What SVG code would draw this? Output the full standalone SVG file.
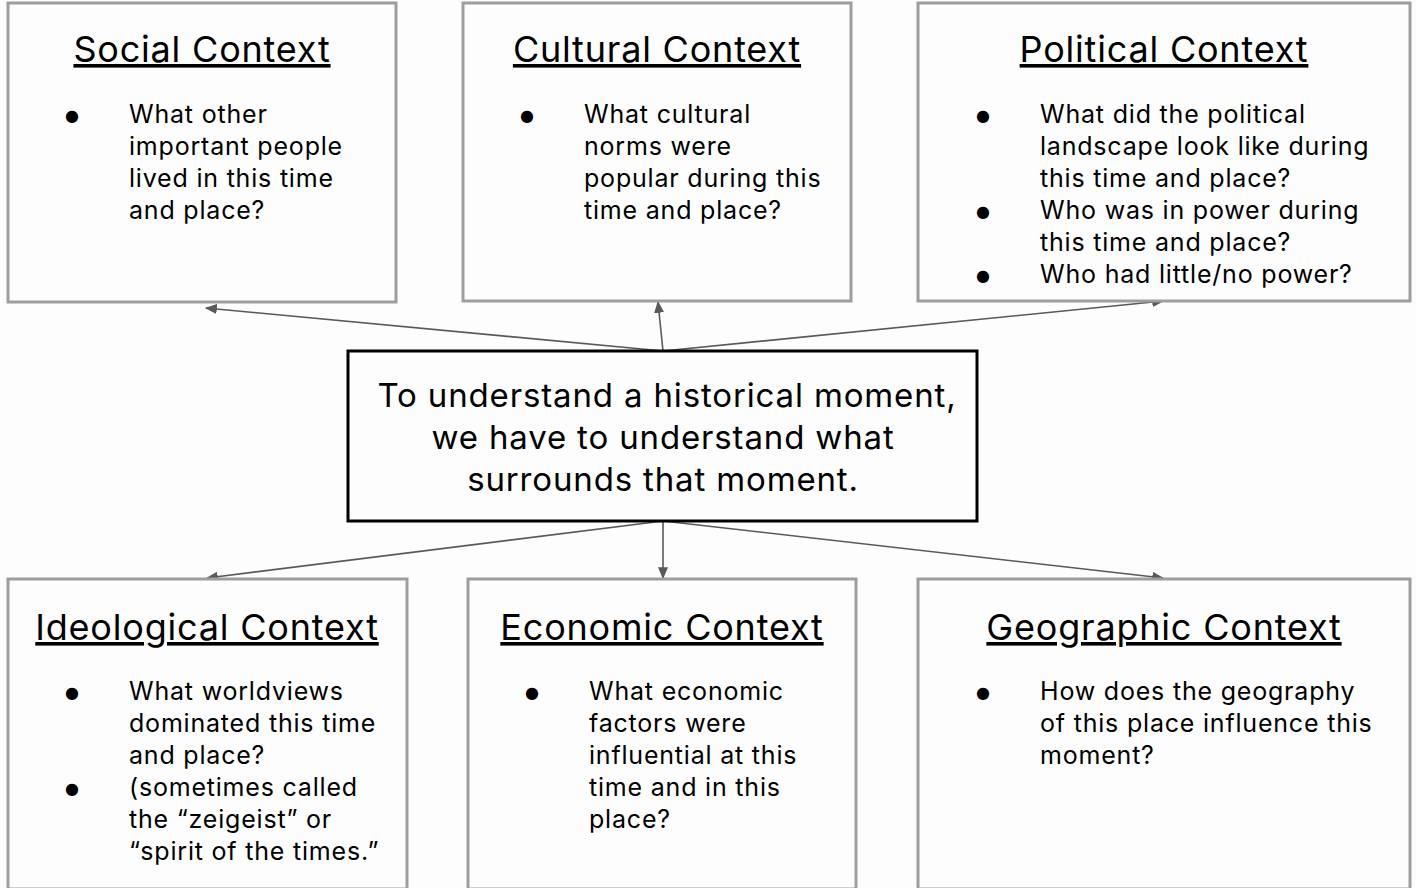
<svg xmlns="http://www.w3.org/2000/svg" width="1416" height="888" viewBox="0 0 1416 888">
<style>
.box{fill:#fdfdfd;stroke:#9e9e9e;stroke-width:3}
.center{fill:#fdfdfd;stroke:#000;stroke-width:3}
.title{font-family:Inter,"Liberation Sans",sans-serif;font-size:36px;letter-spacing:0.8px;fill:#000;text-anchor:middle;text-decoration:underline}
.body{font-family:Inter,"Liberation Sans",sans-serif;font-size:25px;letter-spacing:0.8px;fill:#000}
.pol{font-family:Inter,"Liberation Sans",sans-serif;font-size:25px;fill:#000;letter-spacing:0.8px}
.bul{font-family:"DejaVu Sans",sans-serif;font-size:16px;fill:#000;text-anchor:middle}
.main{font-family:Inter,"Liberation Sans",sans-serif;font-size:33px;letter-spacing:0.85px;fill:#000;text-anchor:middle}
.conn{stroke:#595959;stroke-width:1.6;fill:none;marker-end:url(#ah)}
</style>
<defs>
<marker id="ah" viewBox="0 0 10 10" refX="9" refY="5" markerWidth="12" markerHeight="10" markerUnits="userSpaceOnUse" orient="auto" preserveAspectRatio="none">
<path d="M0,0 L10,5 L0,10 z" fill="#595959"/>
</marker>
</defs>
<rect x="0" y="0" width="1416" height="888" fill="#fdfdfd"/>
<g id="connectors">
<line class="conn" x1="663" y1="351" x2="206" y2="308"/>
<line class="conn" x1="663" y1="351" x2="658" y2="302"/>
<line class="conn" x1="663" y1="351" x2="1163" y2="301"/>
<line class="conn" x1="663" y1="521" x2="207" y2="578"/>
<line class="conn" x1="663" y1="521" x2="663" y2="578"/>
<line class="conn" x1="663" y1="521" x2="1163" y2="578"/>
</g>
<g id="social">
<rect class="box" x="8" y="3" width="388" height="299"/>
<text class="title" x="202" y="62">Social Context</text>
<text class="bul" x="72" y="121">●</text>
<text class="body" x="129" y="123">What other</text>
<text class="body" x="129" y="155">important people</text>
<text class="body" x="129" y="187">lived in this time</text>
<text class="body" x="129" y="219">and place?</text>
</g>
<g id="cultural">
<rect class="box" x="463" y="3" width="388" height="298"/>
<text class="title" x="657" y="62">Cultural Context</text>
<text class="bul" x="527" y="121">●</text>
<text class="body" x="584" y="123">What cultural</text>
<text class="body" x="584" y="155">norms were</text>
<text class="body" x="584" y="187">popular during this</text>
<text class="body" x="584" y="219">time and place?</text>
</g>
<g id="political">
<rect class="box" x="918" y="3" width="492" height="298"/>
<text class="title" x="1164" y="62">Political Context</text>
<text class="bul" x="983" y="121">●</text>
<text class="pol" x="1040" y="123">What did the political</text>
<text class="pol" x="1040" y="155">landscape look like during</text>
<text class="pol" x="1040" y="187">this time and place?</text>
<text class="bul" x="983" y="217">●</text>
<text class="pol" x="1040" y="219">Who was in power during</text>
<text class="pol" x="1040" y="251">this time and place?</text>
<text class="bul" x="983" y="281">●</text>
<text class="pol" x="1040" y="283">Who had little/no power?</text>
</g>
<g id="center">
<rect class="center" x="348" y="351" width="629" height="170"/>
<text class="main" x="667" y="407">To understand a historical moment,</text>
<text class="main" x="663" y="449">we have to understand what</text>
<text class="main" x="663" y="491">surrounds that moment.</text>
</g>
<g id="ideological">
<rect class="box" x="8" y="579" width="399" height="310"/>
<text class="title" x="207" y="640">Ideological Context</text>
<text class="bul" x="72" y="698">●</text>
<text class="body" x="129" y="700">What worldviews</text>
<text class="body" x="129" y="732">dominated this time</text>
<text class="body" x="129" y="764">and place?</text>
<text class="bul" x="72" y="794">●</text>
<text class="body" x="129" y="796">(sometimes called</text>
<text class="body" x="129" y="828">the “zeigeist” or</text>
<text class="body" x="129" y="860">“spirit of the times.”</text>
</g>
<g id="economic">
<rect class="box" x="468" y="579" width="388" height="310"/>
<text class="title" x="662" y="640">Economic Context</text>
<text class="bul" x="532" y="698">●</text>
<text class="body" x="589" y="700">What economic</text>
<text class="body" x="589" y="732">factors were</text>
<text class="body" x="589" y="764">influential at this</text>
<text class="body" x="589" y="796">time and in this</text>
<text class="body" x="589" y="828">place?</text>
</g>
<g id="geographic">
<rect class="box" x="918" y="579" width="492" height="310"/>
<text class="title" x="1164" y="640">Geographic Context</text>
<text class="bul" x="983" y="698">●</text>
<text class="body" x="1040" y="700">How does the geography</text>
<text class="body" x="1040" y="732">of this place influence this</text>
<text class="body" x="1040" y="764">moment?</text>
</g>
</svg>
